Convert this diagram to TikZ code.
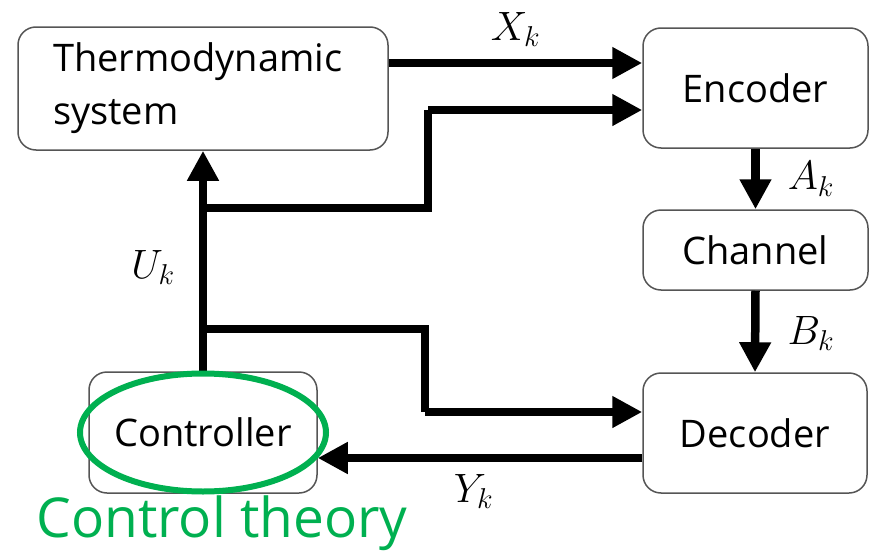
\RequirePackage{fix-cm}
\documentclass[tikz,border=0pt]{standalone}
\usepackage{fontspec}
\setmainfont{Open Sans}
\usetikzlibrary{arrows.meta,calc}
\definecolor{boxline}{HTML}{555555}
\definecolor{ctgreen}{HTML}{00B050}
\begin{document}
\begin{tikzpicture}[x=1pt,y=-1pt,
  block/.style={draw=boxline,line width=1.5pt,rounded corners=18pt,
    font=\fontsize{38}{53}\selectfont,inner sep=0pt},
  arr/.style={line width=8.5pt,-{Triangle[length=30pt,width=30pt]}},
  wire/.style={line width=8.5pt},
  lbl/.style={font=\fontsize{41}{48}\selectfont,inner sep=0pt}]
\useasboundingbox (0,0) rectangle (871,554);

% blocks
\node[block,minimum width=370pt,minimum height=123pt,text width=300pt,
      inner xsep=35pt,align=left] (thermo) at (203,88.5) {Thermodynamic\\system};
\node[block,minimum width=225pt,minimum height=120pt] (enc) at (755.5,88) {Encoder};
\node[block,minimum width=225pt,minimum height=80pt] (chan) at (755.5,250) {Channel};
\node[block,minimum width=224pt,minimum height=120pt] (dec) at (755,433) {Decoder};
\node[block,minimum width=228pt,minimum height=121pt] (ctrl) at (203,432.5) {Controller};

% branch points on the control trunk
\coordinate (bu) at (203,208);
\coordinate (bd) at (203,329);
\coordinate (xk) at (0,63);
\coordinate (ue) at (0,110);
\coordinate (ud) at (0,412);
\coordinate (yk) at (0,458);

% signal flow
\draw[arr] (thermo.east |- xk) -- (enc.west |- xk)
  node[lbl,midway,above=12pt] {$X_k$};
\draw[arr] (enc.south) -- (chan.north)
  node[lbl,midway,right=28pt] {$A_k$};
\draw[arr] (chan.south) -- (dec.north)
  node[lbl,midway,right=28pt,yshift=-2pt] {$B_k$};
\draw[arr] (dec.west |- yk) -- (ctrl.east |- yk)
  node[lbl,pos=0.52,below=12pt] {$Y_k$};
\draw[arr] (ctrl.north) -- (thermo.south)
  node[lbl,pos=0.47,left=24pt] {$U_k$};
\draw[wire,line join=miter] (bu) -- (428,208) -- (428,110);
\draw[arr] (428,110) -- (enc.west |- ue);
\draw[wire,line join=miter] (bd) -- (425,329) -- (425,412);
\draw[arr] (425,412) -- (dec.west |- ud);

% highlighted controller
\draw[ctgreen,line width=6pt] (ctrl.center) ellipse [x radius=123pt, y radius=59pt];
\node[text=ctgreen,font=\fontsize{55}{60}\selectfont,inner sep=0pt] (ct) at (222,523) {Control theory};
\end{tikzpicture}
\end{document}
